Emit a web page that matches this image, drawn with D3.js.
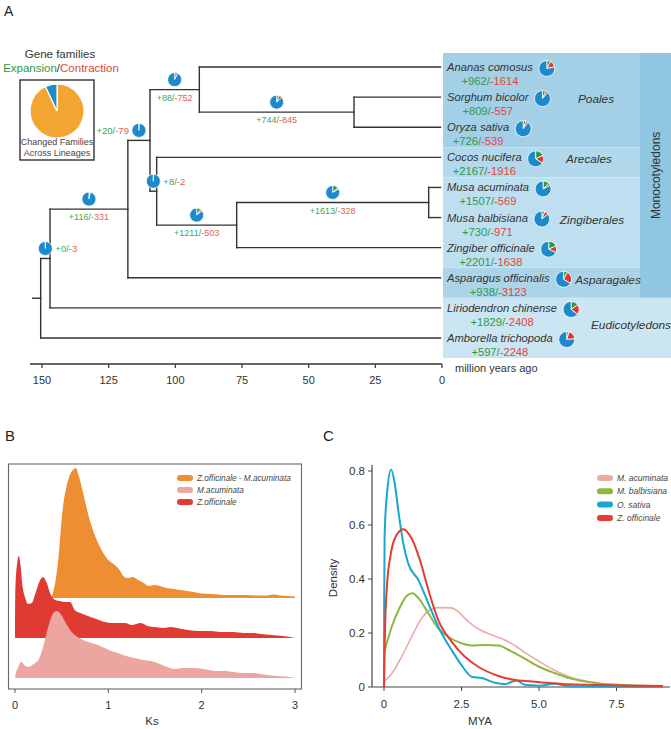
<!DOCTYPE html>
<html><head><meta charset="utf-8">
<script src="https://cdn.jsdelivr.net/npm/d3@7"></script>
<style>
body{margin:0;background:#fff}
svg{display:block;font-family:"Liberation Sans",Arial,Helvetica,sans-serif}
</style></head><body>
<svg id="chart" width="671" height="729"></svg>
<script>
// ================= DATA =================
// Panel A – species tree with gene family expansion / contraction
const leaves = ["Ananas comosus","Sorghum bicolor","Oryza sativa","Cocos nucifera","Musa acuminata",
  "Musa balbisiana","Zingiber officinale","Asparagus officinalis","Liriodendron chinense","Amborella trichopoda"];
const leafParents = ["n4","n5","n5","n6","n8","n8","n7","n2","n1","root"];
const leafExpansion   = [962, 809, 726, 2167, 1507, 730, 2201, 938, 1829, 597];
const leafContraction = [1614, 557, 539, 1916, 569, 971, 1638, 3123, 2408, 2248];

const nodeIds     = ["root","n1","n2","n3","n4","n5","n6","n7","n8"];
const nodeParents = [null,"root","n1","n2","n3","n4","n3","n6","n7"];
const nodeAges    = [150.5, 147, 117.8, 109.5, 91, 33, 107, 77, 5];   // million years ago
const rootStemAge = 153.5;

const eventNodes       = ["n1","n2","n3","n4","n5","n6","n7","n8"];
const eventExpansion   = [0, 116, 20, 88, 744, 8, 1211, 1613];
const eventContraction = [3, 331, 79, 752, 845, 2, 503, 328];
const totalFamilies = 12000;

const ageTicks = [150, 125, 100, 75, 50, 25, 0];

const orderNames   = ["Poales","Arecales","Zingiberales","Asparagales","Eudicotyledons"];
const orderMembers = [["Ananas comosus","Sorghum bicolor","Oryza sativa"],["Cocos nucifera"],
  ["Musa acuminata","Musa balbisiana","Zingiber officinale"],["Asparagus officinalis"],
  ["Liriodendron chinense","Amborella trichopoda"]];
const cladeMonocots = ["Poales","Arecales","Zingiberales","Asparagales"];

const legendPieLabels = ["Changed","Other"];
const legendPieValues = [93, 7];

// Panel B – Ks distributions (relative density)
const ksSeries = ["Z.officinale - M.acuminata","M.acuminata","Z.officinale"];
const ksTicks = [0,1,2,3];
const ksZoMa = [[0.39,0],[0.43,0.3],[0.46,0.7],[0.51,1.76],[0.57,2.36],[0.62,2.56],[0.65,2.6],[0.69,2.4],[0.73,2.1],
  [0.80,1.56],[0.89,1.1],[1.0,0.76],[1.07,0.66],[1.12,0.56],[1.17,0.42],[1.21,0.4],[1.26,0.42],[1.32,0.36],[1.38,0.3],
  [1.43,0.24],[1.5,0.26],[1.55,0.24],[1.62,0.2],[1.7,0.18],[1.77,0.16],[1.85,0.14],[1.91,0.12],[2.0,0.09],[2.1,0.08],
  [2.27,0.06],[2.4,0.06],[2.48,0.06],[2.6,0.05],[2.7,0.05],[2.77,0.07],[2.85,0.05],[3.0,0.03],[3.0,0]];
const ksZo = [[0,0],[0.004,1.0],[0.02,1.45],[0.04,1.64],[0.06,1.45],[0.08,1.05],[0.11,0.8],[0.14,0.68],[0.18,0.7],
  [0.22,0.9],[0.26,1.12],[0.30,1.22],[0.34,1.1],[0.38,0.88],[0.43,0.76],[0.48,0.74],[0.54,0.72],[0.59,0.72],[0.64,0.56],
  [0.7,0.5],[0.78,0.44],[0.87,0.38],[0.96,0.32],[1.05,0.3],[1.18,0.3],[1.25,0.26],[1.35,0.3],[1.42,0.24],[1.5,0.22],
  [1.6,0.2],[1.66,0.22],[1.73,0.2],[1.85,0.16],[1.98,0.14],[2.1,0.14],[2.2,0.12],[2.34,0.12],[2.45,0.1],[2.55,0.1],
  [2.63,0.08],[2.75,0.06],[2.87,0.04],[2.95,0.02],[3.0,0]];
const ksMa = [[0,0],[0.004,0.05],[0.03,0.2],[0.07,0.32],[0.1,0.26],[0.14,0.22],[0.2,0.28],[0.25,0.36],[0.29,0.55],
  [0.32,0.76],[0.36,1.05],[0.39,1.22],[0.42,1.32],[0.45,1.34],[0.48,1.3],[0.51,1.22],[0.55,1.08],[0.59,0.96],
  [0.64,0.86],[0.69,0.8],[0.75,0.74],[0.82,0.7],[0.89,0.66],[0.96,0.6],[1.03,0.54],[1.1,0.5],[1.19,0.44],[1.28,0.4],
  [1.37,0.36],[1.46,0.34],[1.55,0.28],[1.63,0.22],[1.71,0.18],[1.8,0.2],[1.91,0.2],[2.02,0.18],[2.15,0.14],[2.25,0.14],
  [2.34,0.12],[2.45,0.1],[2.55,0.1],[2.63,0.08],[2.75,0.05],[2.87,0.03],[2.98,0.01],[2.99,0]];

// Panel C – divergence-time density (MYA)
const myaSeries = ["M. acuminata","M. balbisiana","O. sativa","Z. officinale"];
const myaTicks = [0, 2.5, 5.0, 7.5];
const densityTicks = [0, 0.2, 0.4, 0.6, 0.8];
const myaMa = [[0,0.02],[0.25,0.05],[0.57,0.112],[0.89,0.186],[1.21,0.254],[1.48,0.285],[1.75,0.294],[2.18,0.293],
  [2.39,0.279],[2.72,0.242],[3.1,0.211],[3.48,0.193],[3.9,0.174],[4.28,0.149],[4.55,0.127],[5.0,0.095],[5.5,0.062],
  [6.0,0.037],[6.5,0.022],[7.0,0.013],[7.5,0.009],[8.0,0.006],[9.0,0.004]];
const myaMb = [[0,0.125],[0.25,0.223],[0.52,0.297],[0.73,0.337],[0.91,0.347],[1.16,0.322],[1.43,0.273],[1.75,0.217],
  [2.07,0.186],[2.5,0.162],[2.83,0.154],[3.26,0.156],[3.69,0.154],[4.12,0.131],[4.53,0.106],[5.0,0.075],[5.5,0.052],
  [6.0,0.032],[6.5,0.02],[7.0,0.012],[7.5,0.008],[8.0,0.006],[9.0,0.004]];
const myaOs = [[0,0],[0.005,0.3],[0.02,0.56],[0.1,0.72],[0.23,0.806],[0.35,0.75],[0.46,0.655],[0.62,0.533],
  [0.78,0.458],[1.11,0.396],[1.43,0.31],[1.75,0.223],[2.18,0.137],[2.5,0.081],[2.83,0.038],[3.15,0.033],[3.58,0.016],
  [3.9,0.011],[4.28,0.024],[4.55,0.008],[5.0,0.005],[5.5,0.012],[6.0,0.003],[7.0,0.002],[9.0,0.001]];
const myaZo = [[0,0],[0.03,0.2],[0.1,0.38],[0.2,0.48],[0.35,0.55],[0.62,0.584],[0.89,0.55],[1.16,0.47],[1.43,0.36],
  [1.75,0.248],[2.18,0.168],[2.61,0.112],[3.04,0.075],[3.69,0.041],[4.23,0.026],[4.55,0.022],[5.0,0.018],[6.0,0.01],
  [7.0,0.007],[8.0,0.005],[9.0,0.004]];

// ================= STYLE =================
const C = {
  tree:"#333", text:"#333", green:"#2f9a48", red:"#e3443a", greenSoft:"#3fa65a", redSoft:"#e2604f",
  pieBlue:"#1b8bcb", pieGreen:"#2a9a45", pieRed:"#e2382c", pieOrange:"#f2a531",
  band:{Poales:"#a3d0e6",Arecales:"#b1d8eb",Zingiberales:"#bedfef",Asparagales:"#acd4e9",Eudicotyledons:"#cbe5f2"},
  monoStrip:"#90c6e1",
  ksColors:{"Z.officinale - M.acuminata":"#ee8e33","M.acuminata":"#eca5a1","Z.officinale":"#df3b32"},
  myaColors:{"M. acuminata":"#eeaaa6","M. balbisiana":"#8cb83e","O. sativa":"#19a8cc","Z. officinale":"#e53d33"}
};
const labelPlacement = {n1:"right",n2:"below",n3:"left",n4:"below",n5:"below",n6:"right",n7:"below",n8:"below"};
const orderLabelX = {Poales:596,Arecales:589,Zingiberales:592,Asparagales:608,Eudicotyledons:631};

const svg = d3.select("#chart");

// ================= PANEL A =================
const gA = svg.append("g");
gA.append("text").attr("x",4).attr("y",15.5).attr("font-size",14).attr("fill","#222").text("A");

const ageX = d3.scaleLinear().domain([0,150]).range([442,42]);
const leafY = d3.scalePoint().domain(leaves).range([67,338]);

// background bands
const bandX0 = 443, monoX = 640, rightX = 671;
const bandRows = orderNames.map((o,i)=>{
  const ys = orderMembers[i].map(leafY);
  return {name:o, top: (i===0 ? d3.min(ys)-14 : d3.min(ys)-10), bottom: d3.max(ys)+20, mid:d3.mean(ys)};
});
gA.selectAll("rect.band").data(bandRows).join("rect")
  .attr("x",bandX0).attr("y",d=>d.top)
  .attr("width",d=>(cladeMonocots.includes(d.name)?monoX:rightX)-bandX0)
  .attr("height",d=>d.bottom-d.top).attr("fill",d=>C.band[d.name]);
const monoRows = bandRows.filter(d=>cladeMonocots.includes(d.name));
const monoTop = d3.min(monoRows,d=>d.top), monoBot = d3.max(monoRows,d=>d.bottom);
gA.append("rect").attr("x",monoX).attr("y",monoTop).attr("width",rightX-monoX).attr("height",monoBot-monoTop).attr("fill",C.monoStrip);
gA.append("text").attr("transform",`translate(${(monoX+rightX)/2+4},${(monoTop+monoBot)/2}) rotate(-90)`)
  .attr("text-anchor","middle").attr("font-size",12).attr("fill",C.text).text("Monocotyledons");
gA.selectAll("text.order").data(bandRows).join("text")
  .attr("x",d=>orderLabelX[d.name]).attr("y",d=>d.mid+2).attr("dy","0.35em")
  .attr("text-anchor","middle").attr("font-size",11.8).attr("font-style","italic").attr("fill",C.text).text(d=>d.name);

// tree geometry
const nodeAge = {}; const parentOf = {}; const children = {};
nodeIds.forEach((id,i)=>{nodeAge[id]=nodeAges[i]; parentOf[id]=nodeParents[i]; children[id]=[];});
leaves.forEach((l,i)=>{nodeAge[l]=0; parentOf[l]=leafParents[i];});
[...nodeIds, ...leaves].forEach(id=>{ if(parentOf[id]) children[parentOf[id]].push(id); });
const yMemo = {};
function yOf(id){ if(yMemo[id]!==undefined) return yMemo[id];
  const v = children[id] && children[id].length ? d3.mean(children[id], yOf) : leafY(id);
  return (yMemo[id]=v); }
const xOf = id => ageX(nodeAge[id]);

const lines = [];
nodeIds.forEach(id=>{
  const ys = children[id].map(yOf);
  lines.push({x1:xOf(id),x2:xOf(id),y1:d3.min(ys),y2:d3.max(ys)});
});
[...nodeIds, ...leaves].forEach(id=>{
  if(parentOf[id]) lines.push({x1:xOf(parentOf[id]),x2:xOf(id)-(leaves.includes(id)?1.5:0),y1:yOf(id),y2:yOf(id)});
});
lines.push({x1:ageX(rootStemAge),x2:xOf("root"),y1:yOf("root"),y2:yOf("root")});
gA.selectAll("line.tree").data(lines).join("line")
  .attr("x1",d=>d.x1).attr("x2",d=>d.x2).attr("y1",d=>d.y1).attr("y2",d=>d.y2)
  .attr("stroke",C.tree).attr("stroke-width",1.4).attr("stroke-linecap","square");

// pies
const pieGen = d3.pie().sort(null).value(d=>d);
function drawPie(g, cx, cy, r, exp, con){
  const vals = [exp, con, Math.max(0,totalFamilies-exp-con)];
  const cols = [C.pieGreen, C.pieRed, C.pieBlue];
  const arc = d3.arc().innerRadius(0).outerRadius(r);
  g.append("g").attr("transform",`translate(${cx},${cy})`)
    .selectAll("path").data(pieGen(vals)).join("path")
    .attr("d",arc).attr("fill",(d,i)=>cols[i]).attr("stroke","#fff").attr("stroke-width",0.8);
}
function countLabel(g, x, y, exp, con, size, anchor, soft){
  const t = g.append("text").attr("x",x).attr("y",y).attr("font-size",size).attr("text-anchor",anchor);
  t.append("tspan").attr("fill",soft?C.greenSoft:C.green).text(`+${exp}/`);
  t.append("tspan").attr("fill",soft?C.redSoft:C.red).text(`-${con}`);
  return t;
}
eventNodes.forEach((id,i)=>{
  const x1 = xOf(parentOf[id]), x2 = xOf(id), y = yOf(id);
  const cx = (x1+x2)/2, cy = y-10;
  drawPie(gA, cx, cy, 7, eventExpansion[i], eventContraction[i]);
  const side = labelPlacement[id];
  if(side==="below") countLabel(gA, cx, y+11, eventExpansion[i], eventContraction[i], 9, "middle", true);
  else if(side==="right") countLabel(gA, cx+10, cy+3.5, eventExpansion[i], eventContraction[i], 9.5, "start", true);
  else countLabel(gA, cx-10, cy+3.5, eventExpansion[i], eventContraction[i], 9.5, "end", true);
});

// leaf labels
leaves.forEach((l,i)=>{
  const y = leafY(l);
  const name = gA.append("text").attr("x",447).attr("y",y+4).attr("font-size",11.2)
    .attr("font-style","italic").attr("fill",C.text).text(l);
  const w = name.node().getComputedTextLength();
  countLabel(gA, 447+w/2, y+18, leafExpansion[i], leafContraction[i], 11.2, "middle", false);
  drawPie(gA, 447+w+14, y+1.5, 8, leafExpansion[i], leafContraction[i]);
});

// time axis
const axisY = 364;
gA.append("line").attr("x1",ageX(rootStemAge+1)).attr("x2",ageX(0)).attr("y1",axisY).attr("y2",axisY)
  .attr("stroke",C.tree).attr("stroke-width",1.3);
const tA = gA.selectAll("g.tickA").data(ageTicks).join("g").attr("transform",d=>`translate(${ageX(d)},${axisY})`);
tA.append("line").attr("y2",4).attr("stroke",C.tree).attr("stroke-width",1.2);
tA.append("text").attr("y",20).attr("text-anchor","middle").attr("font-size",11).attr("fill",C.text).text(d=>d);
gA.append("text").attr("x",455).attr("y",372).attr("font-size",11).attr("fill",C.text).text("million years ago");

// legend
gA.append("text").attr("x",60).attr("y",58).attr("text-anchor","middle").attr("font-size",11.5).attr("fill",C.text).text("Gene families");
const lt = gA.append("text").attr("x",61).attr("y",72).attr("text-anchor","middle").attr("font-size",11.5);
lt.append("tspan").attr("fill",C.green).text("Expansion");
lt.append("tspan").attr("fill",C.text).text("/");
lt.append("tspan").attr("fill",C.red).text("Contraction");
gA.append("rect").attr("x",20).attr("y",80).attr("width",74).attr("height",80).attr("fill","none")
  .attr("stroke",C.tree).attr("stroke-width",1.4);
const legArc = d3.arc().innerRadius(0).outerRadius(27);
gA.append("g").attr("transform","translate(57,111)").selectAll("path")
  .data(pieGen(legendPieValues)).join("path").attr("d",legArc)
  .attr("fill",(d,i)=>legendPieLabels[i]==="Changed"?C.pieOrange:C.pieBlue).attr("stroke","#fff").attr("stroke-width",1.2);
gA.append("text").attr("x",57).attr("y",145).attr("text-anchor","middle").attr("font-size",9).attr("fill","#444").text("Changed Families");
gA.append("text").attr("x",57).attr("y",156).attr("text-anchor","middle").attr("font-size",9).attr("fill","#444").text("Across Lineages");

// ================= PANEL B =================
const gB = svg.append("g");
gB.append("text").attr("x",5).attr("y",441).attr("font-size",15).attr("fill","#222").text("B");
const bx = d3.scaleLinear().domain([0,3]).range([15,295]);
const bh = d3.scaleLinear().domain([0,2.6]).range([0,130]);
const ridgeOrder = ["Z.officinale - M.acuminata","Z.officinale","M.acuminata"];
const ridgeBase = d3.scalePoint().domain(ridgeOrder).range([598,678]);
const ksData = {"Z.officinale - M.acuminata":ksZoMa,"M.acuminata":ksMa,"Z.officinale":ksZo};
gB.append("rect").attr("x",8.5).attr("y",464).attr("width",293).attr("height",225)
  .attr("fill","none").attr("stroke","#666").attr("stroke-width",1.1);
ridgeOrder.forEach(s=>{
  const base = ridgeBase(s);
  const area = d3.area().x(d=>bx(d[0])).y0(base).y1(d=>base-bh(d[1])).curve(d3.curveMonotoneX);
  gB.append("path").attr("d",area(ksData[s])).attr("fill",C.ksColors[s]);
});
const tB = gB.selectAll("g.tickB").data(ksTicks).join("g").attr("transform",d=>`translate(${bx(d)},689)`);
tB.append("line").attr("y2",4).attr("stroke","#555");
tB.append("text").attr("y",20).attr("text-anchor","middle").attr("font-size",11).attr("fill",C.text).text(d=>d);
gB.append("text").attr("x",152).attr("y",725).attr("text-anchor","middle").attr("font-size",11.5).attr("fill",C.text).text("Ks");
ksSeries.forEach((s,i)=>{
  const y = 478 + i*12;
  gB.append("rect").attr("x",177).attr("y",y-3).attr("width",16).attr("height",6).attr("rx",3).attr("fill",C.ksColors[s]);
  gB.append("text").attr("x",197).attr("y",y+3).attr("font-size",8.2).attr("font-style","italic").attr("fill","#444").text(s);
});

// ================= PANEL C =================
const gC = svg.append("g");
gC.append("text").attr("x",323).attr("y",441).attr("font-size",15).attr("fill","#222").text("C");
const cx = d3.scaleLinear().domain([0,9.2]).range([384,669.2]);
const cy = d3.scaleLinear().domain([0,0.8]).range([687,471]);
gC.append("line").attr("x1",372).attr("x2",372).attr("y1",465).attr("y2",687).attr("stroke","#444").attr("stroke-width",1.2);
gC.append("line").attr("x1",372).attr("x2",670).attr("y1",687).attr("y2",687).attr("stroke","#444").attr("stroke-width",1.2);
const tCy = gC.selectAll("g.tcy").data(densityTicks).join("g").attr("transform",d=>`translate(372,${cy(d)})`);
tCy.append("line").attr("x2",-4).attr("stroke","#444");
tCy.append("text").attr("x",-7).attr("dy","0.35em").attr("text-anchor","end").attr("font-size",11.5).attr("fill",C.text).text(d=>d);
const tCx = gC.selectAll("g.tcx").data(myaTicks).join("g").attr("transform",d=>`translate(${cx(d)},687)`);
tCx.append("line").attr("y2",4).attr("stroke","#444");
tCx.append("text").attr("y",21).attr("text-anchor","middle").attr("font-size",11.5).attr("fill",C.text).text(d=>d===0?"0":d.toFixed(1));
gC.append("text").attr("x",480).attr("y",725).attr("text-anchor","middle").attr("font-size",11.5).attr("fill",C.text).text("MYA");
gC.append("text").attr("transform","translate(337,578) rotate(-90)").attr("text-anchor","middle").attr("font-size",11.5).attr("fill",C.text).text("Density");
const myaData = {"M. acuminata":myaMa,"M. balbisiana":myaMb,"O. sativa":myaOs,"Z. officinale":myaZo};
const lineC = d3.line().x(d=>cx(d[0])).y(d=>cy(d[1])).curve(d3.curveMonotoneX);
myaSeries.forEach(s=>{
  gC.append("path").attr("d",lineC(myaData[s])).attr("fill","none").attr("stroke",C.myaColors[s])
    .attr("stroke-width",s==="M. acuminata"?1.6:2);
});
myaSeries.forEach((s,i)=>{
  const y = 478 + i*13.3;
  gC.append("rect").attr("x",597).attr("y",y-3).attr("width",16).attr("height",6).attr("rx",3).attr("fill",C.myaColors[s]);
  gC.append("text").attr("x",617).attr("y",y+3).attr("font-size",8.5).attr("font-style","italic").attr("fill","#444").text(s);
});
</script>
</body></html>
